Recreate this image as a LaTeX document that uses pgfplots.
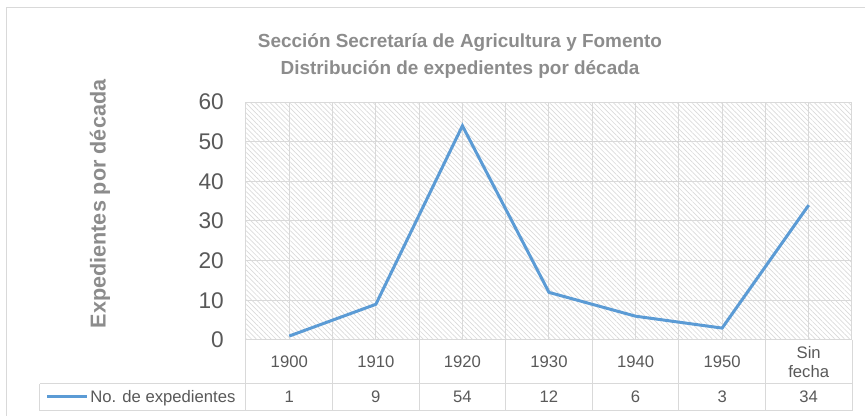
\documentclass[border=0pt]{standalone}
\usepackage{pgfplots}
\pgfplotsset{compat=1.18}
\usepackage{fontspec}
\setmainfont{Liberation Sans}
\usetikzlibrary{patterns.meta}
\definecolor{serie}{HTML}{5B9BD5}
\definecolor{titgray}{HTML}{8C8C8C}
\definecolor{txtgray}{HTML}{595959}
\definecolor{gridgray}{HTML}{D9D9D9}
\definecolor{hatch}{HTML}{DADADA}
\begin{document}
\begin{tikzpicture}
\useasboundingbox (-184.5pt,-57pt) rectangle (464.25pt,255pt);
\draw[gridgray, line width=0.75pt] (-179.25pt,-80pt) -- (-179.25pt,249pt) -- (480pt,249pt);
\begin{axis}[
 at={(0pt,0pt)}, anchor=south west,
 scale only axis, width=454.5pt, height=178.5pt,
 xmin=-0.5, xmax=6.5, ymin=0, ymax=60,
 xtick={0,...,6}, xticklabels={1900,1910,1920,1930,1940,1950,{Sin\\fecha}},
 minor xtick={-0.5,0.5,...,6.5},
 ytick={0,10,...,60},
 xmajorgrids, xminorgrids, ymajorgrids,
 grid style={gridgray, line width=0.75pt},
 minor grid style={gridgray, line width=0.75pt},
 major tick length=0pt, minor tick length=0pt,
 axis line style={gridgray, line width=0.75pt},
 axis background/.style={pattern={Lines[angle=-45,distance=2.6pt,line width=0.5pt]}, pattern color=hatch},
 /pgf/number format/assume math mode=true,
 yticklabel style={font=\fontsize{17}{20}\selectfont, color=txtgray, inner sep=0pt, anchor=east, xshift=-16.5pt},
 xticklabel style={font=\fontsize{12.5}{14.5}\selectfont, color=txtgray, align=center, anchor=center, yshift=-16.5pt, inner sep=0pt},
 extra x ticks={0,...,6},
 extra x tick labels={1,9,54,12,6,3,34},
 extra x tick style={grid=none, xticklabel style={yshift=-26.25pt}},
 clip=false,
 legend style={at={(axis description cs:-0.3305,-0.2395)}, anchor=west, draw=none, fill=none, inner sep=0pt,
   font=\fontsize{12.5}{14.5}\selectfont, text=txtgray, nodes={inner sep=1.5pt}},
 legend cell align=left,
 legend image code/.code={\draw[#1] (0pt,0pt) -- (29.5pt,0pt);},
]
\addplot[serie, line width=2.25pt] coordinates {(0,1)(1,9)(2,54)(3,12)(4,6)(5,3)(6,34)};
\addlegendentry{No. de expedientes}
\end{axis}
\foreach \k in {0,...,7} \draw[gridgray, line width=0.75pt] ({\k*64.9286pt},0pt) -- ({\k*64.9286pt},-52.9pt);
\draw[gridgray, line width=0.75pt] (-154.5pt,-33pt) -- (454.5pt,-33pt);
\draw[gridgray, line width=0.75pt] (-154.5pt,-52.9pt) -- (454.5pt,-52.9pt);
\draw[gridgray, line width=0.75pt] (-154.5pt,-33pt) -- (-154.5pt,-52.9pt);
\node[anchor=base, font=\bfseries\fontsize{14.2}{17}\selectfont, text=titgray] at (160.5pt,219pt) {Sección Secretaría de Agricultura y Fomento};
\node[anchor=base, font=\bfseries\fontsize{14.2}{17}\selectfont, text=titgray] at (160.5pt,198.75pt) {Distribución de expedientes por década};
\node[rotate=90, anchor=base, font=\bfseries\fontsize{16.2}{19}\selectfont, text=titgray] at (-105.2pt,102pt) {Expedientes por década};
\end{tikzpicture}
\end{document}
